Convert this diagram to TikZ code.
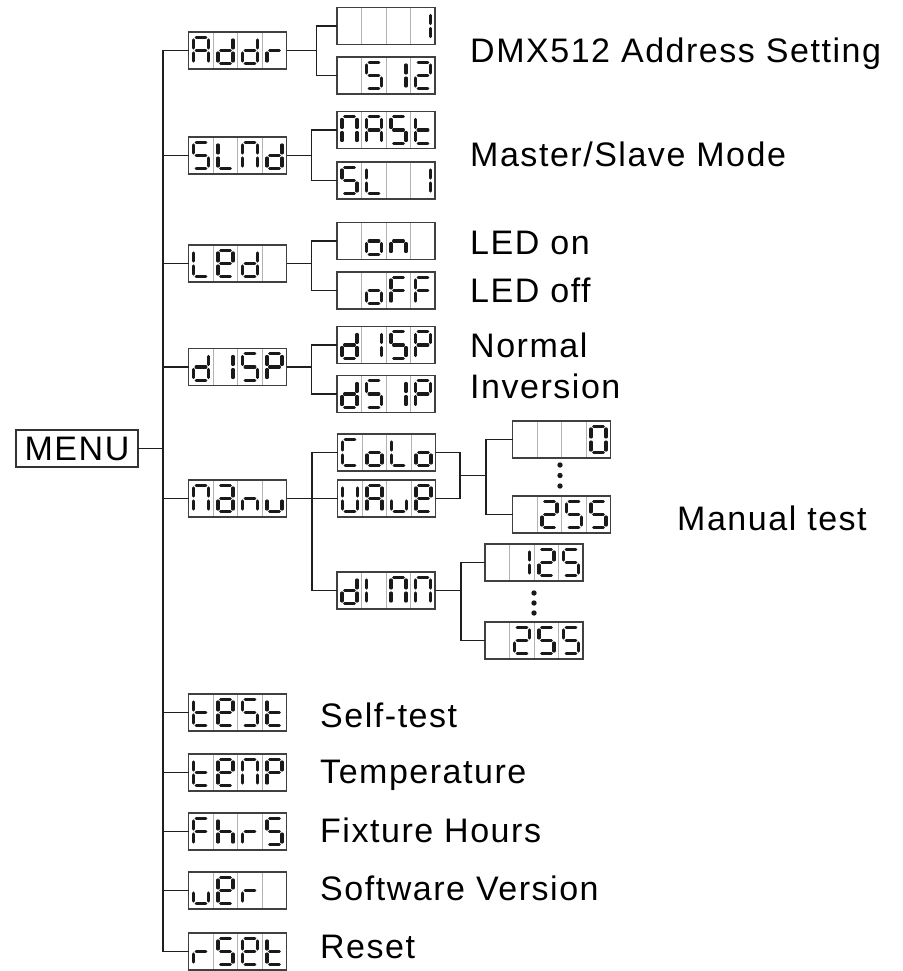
\documentclass[tikz,border=0pt]{standalone}
\usepackage{fontspec}
\setmainfont{Liberation Sans}
\newcommand\lblfont{\fontsize{34}{40}\selectfont\addfontfeature{LetterSpace=4.5}}
\tikzset{
 dbox/.style={draw=black!75, line width=1.3pt, minimum width=98pt, minimum height=37pt, inner sep=0pt, outer sep=0pt, fill=white},
 cellsep/.style={draw=black!30, line width=1pt},
 segl/.style={line width=3.1pt, line cap=round, draw=black!90},
 conn/.style={line width=1.7pt, draw=black!88},
 lbl/.style={anchor=base west, inner sep=0pt, font=\lblfont},
 dotst/.style={fill=black!90},
}
% seven segments (cell origin top-left, y downwards)
\expandafter\def\csname segXa\endcsname{\draw[segl] (7.6,5.3) -- (17.4,5.3);}
\expandafter\def\csname segXb\endcsname{\draw[segl] (20,7.9) -- (20,16);}
\expandafter\def\csname segXc\endcsname{\draw[segl] (20,21) -- (20,29.1);}
\expandafter\def\csname segXd\endcsname{\draw[segl] (7.6,31.7) -- (17.4,31.7);}
\expandafter\def\csname segXe\endcsname{\draw[segl] (5,21) -- (5,29.1);}
\expandafter\def\csname segXf\endcsname{\draw[segl] (5,7.9) -- (5,16);}
\expandafter\def\csname segXg\endcsname{\draw[segl] (7.6,18.5) -- (17.4,18.5);}
\def\svN{x}
\def\svA{a,b,c,e,f,g}
\def\svd{b,c,d,e,g}
\def\svr{e,g}
\def\svS{a,c,d,f,g}
\def\svL{d,e,f}
\def\svPi{a,b,c,e,f}
\def\svt{d,e,f,g}
\def\svone{b,c}
\def\svtwo{a,b,d,e,g}
\def\sve{a,b,d,e,f,g}
\def\svo{c,d,e,g}
\def\svn{c,e,g}
\def\svF{a,e,f,g}
\def\svP{a,b,e,f,g}
\def\sva{a,b,c,d,e,g}
\def\svu{c,d,e}
\def\svC{a,d,e,f}
\def\svU{b,c,d,e,f}
\def\svI{e,f}
\def\svzero{a,b,c,d,e,f}
\def\svh{c,e,f,g}
\newcommand\svglyph[2]{\begin{scope}[shift={(#1*24.5,0)}]\foreach \sgm in #2 {\csname segX\sgm\endcsname}\end{scope}}
\newcommand\dbx[6]{\node[dbox] (#1) at (#2) {};
 \begin{scope}[shift={(#1.north west)}]
  \foreach \k in {1,2,3}{\draw[cellsep] (\k*24.5,0.7) -- (\k*24.5,36.3);}
  \svglyph{0}{#3}\svglyph{1}{#4}\svglyph{2}{#5}\svglyph{3}{#6}
 \end{scope}}
\begin{document}
\begin{tikzpicture}[x=1pt,y=-1pt]
\useasboundingbox (0,0) rectangle (902,971);
% MENU
\node[draw=black!80, line width=1.3pt, minimum width=122pt, minimum height=37pt, inner sep=0pt, outer sep=0pt, font=\lblfont] (menu) at (77,448.5) {MENU};
% level 1
\dbx{addr}{237.5,50.5}{\svA}{\svd}{\svd}{\svr}
\dbx{slnd}{237.5,155.5}{\svS}{\svL}{\svPi}{\svd}
\dbx{led}{237.5,263.5}{\svL}{\sve}{\svd}{\svN}
\dbx{disp}{237.5,367}{\svd}{\svone}{\svS}{\svP}
\dbx{manu}{237.5,498.5}{\svPi}{\sva}{\svn}{\svu}
\dbx{test}{237.5,712.5}{\svt}{\sve}{\svS}{\svt}
\dbx{temp}{237.5,772.5}{\svt}{\sve}{\svPi}{\svP}
\dbx{fhrs}{237.5,831.5}{\svF}{\svh}{\svr}{\svS}
\dbx{ver}{237.5,890.5}{\svu}{\sve}{\svr}{\svN}
\dbx{rset}{237.5,951.5}{\svr}{\svS}{\sve}{\svt}
% level 2
\dbx{aone}{386,26}{\svN}{\svN}{\svN}{\svone}
\dbx{atwo}{386,75.5}{\svN}{\svS}{\svone}{\svtwo}
\dbx{mast}{386,130}{\svPi}{\svA}{\svS}{\svt}
\dbx{slone}{386,180.5}{\svS}{\svL}{\svN}{\svone}
\dbx{on}{386,241}{\svN}{\svo}{\svn}{\svN}
\dbx{off}{386,290.5}{\svN}{\svo}{\svF}{\svF}
\dbx{dispn}{386,345}{\svd}{\svone}{\svS}{\svP}
\dbx{dsip}{386,394}{\svd}{\svS}{\svone}{\svP}
\dbx{colo}{386.5,452.5}{\svC}{\svo}{\svL}{\svo}
\dbx{vaue}{386.5,498.5}{\svU}{\svA}{\svu}{\sve}
\dbx{dimm}{386,590.5}{\svd}{\svI}{\svPi}{\svPi}
% level 3
\dbx{vzero}{561.5,439.5}{\svN}{\svN}{\svN}{\svzero}
\dbx{vmax}{561.5,514.5}{\svN}{\svtwo}{\svS}{\svS}
\dbx{dlow}{534,562.5}{\svN}{\svone}{\svtwo}{\svS}
\dbx{dmax}{534,640.5}{\svN}{\svtwo}{\svS}{\svS}
% dots
\fill[dotst] (560,465) circle (2.7) (560,475.5) circle (2.7) (560,486) circle (2.7);
\fill[dotst] (534,593) circle (2.7) (534,603) circle (2.7) (534,613) circle (2.7);
% trunk
\coordinate (ttop) at (163,50.5);
\coordinate (tbot) at (163,951.5);
\draw[conn] (ttop) -- (tbot);
\draw[conn] (menu.east) -- (menu.east -| ttop);
\foreach \b in {addr,slnd,led,disp,manu,test,temp,fhrs,ver,rset}{\draw[conn] (\b.west) -- (\b.west -| ttop);}
% branches
\draw[conn] (addr.east) -- ++(30,0) coordinate (ja);
\draw[conn] (aone.west) -| (ja); \draw[conn] (atwo.west) -| (ja);
\draw[conn] (slnd.east) -- ++(25,0) coordinate (js);
\draw[conn] (mast.west) -| (js); \draw[conn] (slone.west) -| (js);
\draw[conn] (led.east) -- ++(25,0) coordinate (jl);
\draw[conn] (on.west) -| (jl); \draw[conn] (off.west) -| (jl);
\draw[conn] (disp.east) -- ++(25,0) coordinate (jd);
\draw[conn] (dispn.west) -| (jd); \draw[conn] (dsip.west) -| (jd);
\draw[conn] (manu.east) -- (vaue.west);
\coordinate (jm) at (312,498.5);
\draw[conn] (colo.west) -| (jm); \draw[conn] (dimm.west) -| (jm);
\coordinate (jc) at (460,475.5);
\coordinate (jc2) at (486,475.5);
\draw[conn] (colo.east) -| (jc); \draw[conn] (vaue.east) -| (jc);
\draw[conn] (jc) -- (jc2);
\draw[conn] (vzero.west) -| (jc2); \draw[conn] (vmax.west) -| (jc2);
\draw[conn] (dimm.east) -- ++(26,0) coordinate (jdm);
\draw[conn] (dlow.west) -| (jdm); \draw[conn] (dmax.west) -| (jdm);
% labels
\node[lbl] (l1) at (470,63) {DMX512 Address Setting};
\node[lbl] (l2) at (470,166) {Master/Slave Mode};
\node[lbl] (l3) at (470,254) {LED on};
\node[lbl] (l4) at (470,302) {LED off};
\node[lbl] (l5) at (470,357) {Normal};
\node[lbl] (l6) at (470,398) {Inversion};
\node[lbl] (l7) at (677,530) {Manual test};
\node[lbl] (l8) at (320,727) {Self-test};
\node[lbl] (l9) at (320,783) {Temperature};
\node[lbl] (l10) at (320,842) {Fixture Hours};
\node[lbl] (l11) at (320,900) {Software Version};
\node[lbl] (l12) at (320,958) {Reset};
\end{tikzpicture}
\end{document}
